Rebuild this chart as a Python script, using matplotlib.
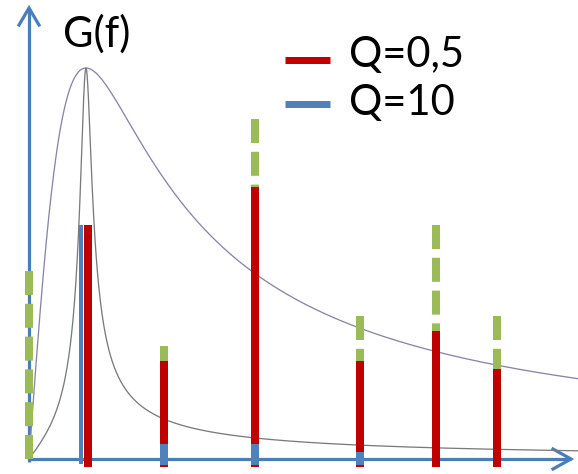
import numpy as np
import matplotlib
matplotlib.use("Agg")
import matplotlib.pyplot as plt
from matplotlib.lines import Line2D

# ---- data -------------------------------------------------------------
# harmonic frequencies, normalised to the resonance frequency f0
harmonic_freq = [0.0, 1.035, 2.37, 3.96, 5.81, 7.14, 8.21]
# amplitude of each harmonic in the input spectrum (green, dashed)
input_amp = [0.481, 0.598, 0.289, 0.870, 0.366, 0.598, 0.366]
# amplitudes after the Q=0.5 filter (red)
out_q05 = [0.0, 0.598, 0.251, 0.696, 0.251, 0.327, 0.230]
# amplitudes after the Q=10 filter (blue)
out_q10 = [0.0, 0.598, 0.038, 0.038, 0.018, 0.0, 0.0]
# the fundamental of the Q=10 output is drawn just left of the red one
q10_fund_freq = 0.907

# quality factors of the two drawn resonance curves
q_wide = 0.5
q_narrow = 5.0

legend_labels = ["Q=0,5", "Q=10"]
title_text = "G(f)"

# ---- geometry ---------------------------------------------------------
W, H, DPI = 578, 474, 100
X0, Y0 = 29, 459          # origin of the drawn axes, in pixels
F0_PX, G_PX = 57, 391     # pixels per unit frequency / unit gain
PT = 72 / DPI             # points per pixel

RED = "#c00000"
BLUE = "#4f81bd"
GREEN = "#9bbb59"
AXIS = "#4a7ebb"

plt.rcParams["font.family"] = ["Lato", "DejaVu Sans"]

fig = plt.figure(figsize=(W / DPI, H / DPI), dpi=DPI)
ax = fig.add_axes([0, 0, 1, 1])
ax.set_xlim(-X0 / F0_PX, (W - X0) / F0_PX)
ax.set_ylim((Y0 - H) / G_PX, Y0 / G_PX)
ax.axis("off")


def dx(p):
    return p / F0_PX


def dy(p):
    return p / G_PX


# ---- axes with open arrow heads ----------------------------------------
axis_kw = dict(color=AXIS, lw=3.2 * PT, solid_capstyle="butt", zorder=1)
ytop = dy(Y0 - 8)
ax.plot([0, 0], [dy(-3), ytop], **axis_kw)
ax.plot([-dx(10), 0, dx(10)], [ytop - dy(17), ytop, ytop - dy(17)],
        color=AXIS, lw=3.2 * PT, solid_joinstyle="miter", zorder=1)
xend = dx(571 - X0)
ax.plot([0, xend], [0, 0], **axis_kw)
ax.plot([xend - dx(18), xend, xend - dx(18)], [dy(10), 0, -dy(10)],
        color=AXIS, lw=3.2 * PT, solid_joinstyle="miter", zorder=1)

# ---- resonance curves --------------------------------------------------
f = np.linspace(1e-4, (W - X0) / F0_PX, 2000)


def gain(freq, q):
    return 1.0 / np.sqrt(1.0 + q ** 2 * (freq - 1.0 / freq) ** 2)


ax.plot(f, gain(f, q_wide), color="#8585a8", lw=1.3 * PT, zorder=2)
ax.plot(f, gain(f, q_narrow), color="#7a7a7a", lw=1.3 * PT, zorder=2)

# ---- spectral lines ----------------------------------------------------
bar_lw = 8 * PT
base = -dy(8)
for fr, a in zip(harmonic_freq, input_amp):
    if a > 0:
        ax.plot([fr, fr], [a, base], color=GREEN, lw=bar_lw,
                solid_capstyle="butt", dash_capstyle="butt",
                linestyle=(0, (3, 1.1)), zorder=3)

for fr, a in zip(harmonic_freq, out_q05):
    if a > 0:
        ax.plot([fr, fr], [base, a], color=RED, lw=bar_lw,
                solid_capstyle="butt", zorder=4)

for i, (fr, a) in enumerate(zip(harmonic_freq, out_q10)):
    if a <= 0:
        continue
    if i == 1:
        ax.plot([q10_fund_freq, q10_fund_freq], [-dy(5), a], color=BLUE,
                lw=4 * PT, solid_capstyle="butt", zorder=5)
    else:
        ax.plot([fr, fr], [-dy(6), a], color=BLUE, lw=bar_lw,
                solid_capstyle="butt", zorder=5)

# ---- title and legend --------------------------------------------------
fs = 30
fig.text(63 / W, 1 - 47 / H, title_text, fontsize=fs, va="baseline",
         ha="left")

for label, col, ymid, ybase in zip(legend_labels, [RED, BLUE],
                                   [59.5, 104], [67, 115]):
    fig.add_artist(Line2D([285 / W, 330 / W], [1 - ymid / H, 1 - ymid / H],
                          color=col, lw=7 * PT, solid_capstyle="butt",
                          transform=fig.transFigure))
    fig.text(349 / W, 1 - ybase / H, label, fontsize=fs, va="baseline",
             ha="left")

fig.savefig("out.png", dpi=DPI)
